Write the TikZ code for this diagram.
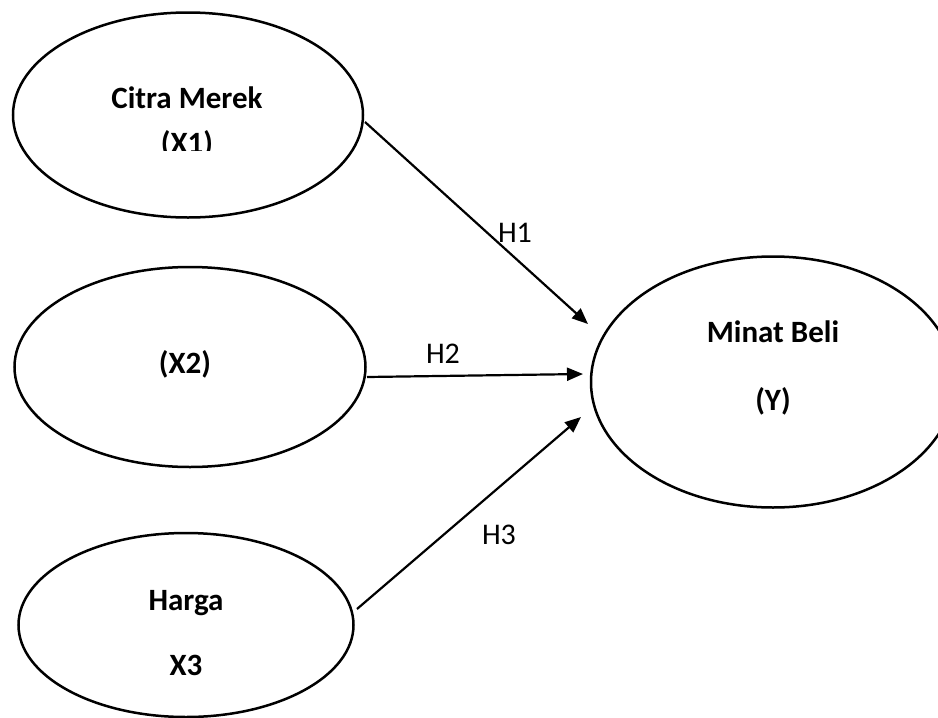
\documentclass[tikz,border=0pt]{standalone}
\usepackage{fontspec}
\setmainfont{Carlito}
\usetikzlibrary{shapes.geometric,arrows.meta}
\begin{document}
\begin{tikzpicture}[x=1pt,y=-1pt,
  var/.style={draw,ellipse,line width=2.5pt,inner sep=0pt,outer sep=0pt},
  lbl/.style={font=\fontsize{31}{36}\selectfont\bfseries,anchor=base,inner sep=0pt},
  hyp/.style={font=\fontsize{30}{36}\selectfont,anchor=base,inner sep=0pt},
  link/.style={line width=2.2pt,-{Triangle[length=16pt,width=13pt]}}]
\clip (0,0) rectangle (938,718);
% ellipses
\node[var,minimum width=350,minimum height=205] (e1) at (188,115) {};
\node[var,minimum width=351,minimum height=200] (e2) at (190,367) {};
\node[var,minimum width=335,minimum height=184] (e3) at (186,625) {};
\node[var,minimum width=364,minimum height=251] (e4) at (773,382) {};
% texts
\node[lbl] (t1) at (187,108) {Citra Merek};
\begin{scope}
\clip (0,0) rectangle (938,150);
\node[lbl] (t1b) at (187,153) {(X1)};
\end{scope}
\node[lbl] (t2) at (185,373) {(X2)};
\node[lbl] (t3) at (186,610) {Harga};
\node[lbl] (t3b) at (186,675) {X3};
\node[lbl] (t4) at (773,342) {Minat Beli};
\node[lbl] (t4b) at (773,410) {(Y)};
% connector ends
\coordinate (s1) at (365,122);
\coordinate (d1) at (588,324);
\coordinate (s2) at (367,377);
\coordinate (d2) at (583,374);
\coordinate (s3) at (357,609);
\coordinate (d3) at (581,417);
\draw[link] (s1) -- (d1);
\draw[link] (s2) -- (d2);
\draw[link] (s3) -- (d3);
% hypothesis labels
\node[hyp] (h1) at (515,242) {H1};
\node[hyp] (h2) at (443,363) {H2};
\node[hyp] (h3) at (499,544) {H3};
\end{tikzpicture}
\end{document}
